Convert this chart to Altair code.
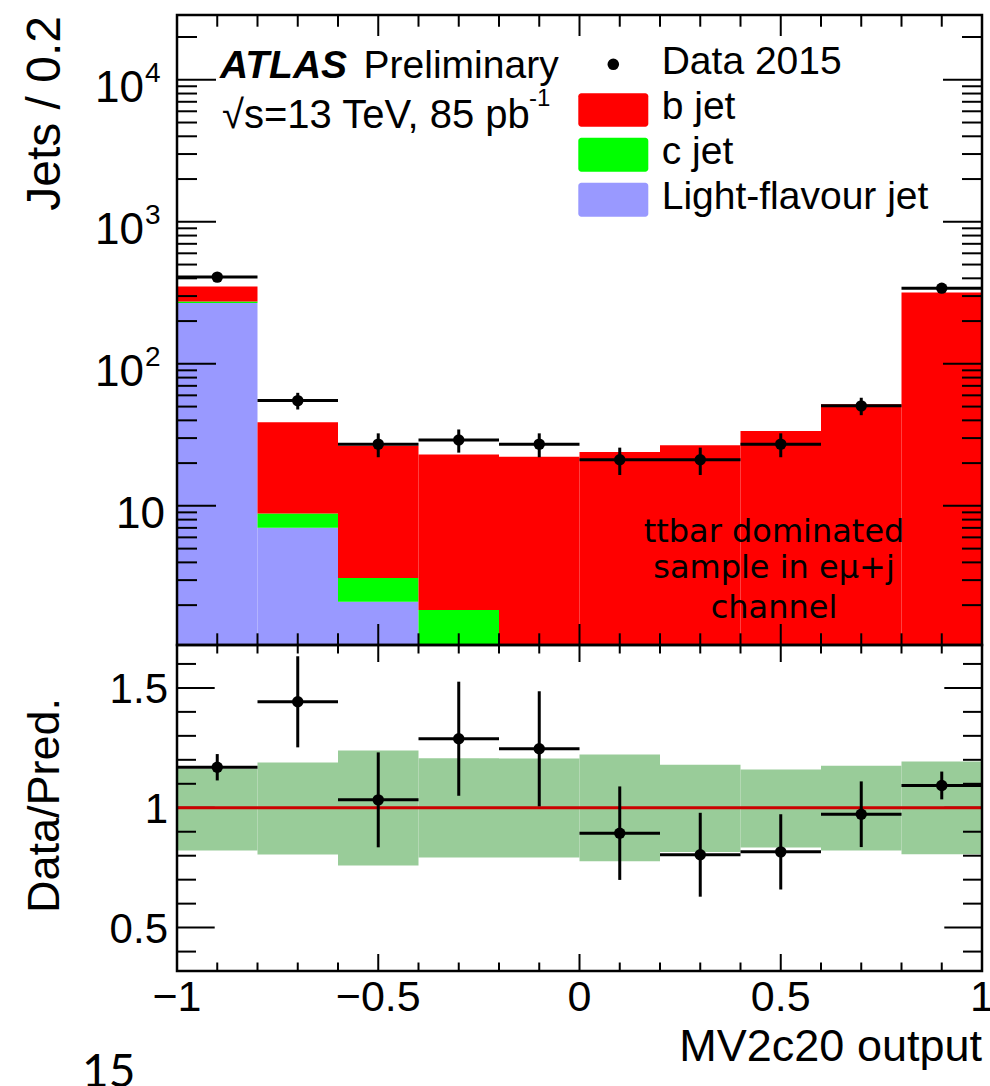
import altair as alt
import pandas as pd

# ---------------- values ----------------
bin_lo = [-1.0, -0.8, -0.6, -0.4, -0.2, 0.0, 0.2, 0.4, 0.6, 0.8]
bin_hi = [-0.8, -0.6, -0.4, -0.2, 0.0, 0.2, 0.4, 0.6, 0.8, 1.0]
bin_mid = [-0.9, -0.7, -0.5, -0.3, -0.1, 0.1, 0.3, 0.5, 0.7, 0.9]

light_jet = [268, 7.0, 2.1, 0.8, 0.4, 0.3, 0.2, 0.2, 0.2, 0.3]
c_jet = [7.0, 1.84, 1.0, 1.04, 0.5, 0.4, 0.4, 0.3, 0.3, 0.3]
b_jet = [76, 30.0, 23.4, 21.1, 21.3, 23.2, 26.1, 33.2, 51.5, 317.4]

data_y = [408, 55.1, 27.2, 29.1, 27.2, 21.1, 21.1, 27.2, 50.6, 341]
data_err = [20.2, 7.4, 5.2, 5.4, 5.2, 4.6, 4.6, 5.2, 7.1, 18.5]

ratio = [1.169, 1.442, 1.033, 1.288, 1.246, 0.894, 0.804, 0.816, 0.973, 1.093]
ratio_err = [0.055, 0.19, 0.198, 0.238, 0.24, 0.195, 0.175, 0.157, 0.137, 0.058]
band_lo = [0.822, 0.805, 0.759, 0.793, 0.793, 0.777, 0.815, 0.834, 0.822, 0.806]
band_hi = [1.163, 1.189, 1.239, 1.207, 1.205, 1.222, 1.179, 1.160, 1.175, 1.193]

flavours = ["Light-flavour jet", "c jet", "b jet"]
flavour_colors = ["#9999ff", "#00ff00", "#ff0000"]

x_major = [-1.0, -0.5, 0.0, 0.5, 1.0]
x_labels = ["\u22121", "\u22120.5", "0", "0.5", "1"]
x_minor = [-0.9, -0.8, -0.7, -0.6, -0.4, -0.3, -0.2, -0.1,
           0.1, 0.2, 0.3, 0.4, 0.6, 0.7, 0.8, 0.9]

top_y_major = [10, 100, 1000, 10000]
top_y_base = ["10", "10", "10", "10"]
top_y_exp = ["", "2", "3", "4"]

ratio_y_major = [0.5, 1.0, 1.5]
ratio_y_labels = ["0.5", "1", "1.5"]
ratio_y_minor = [0.4, 0.6, 0.7, 0.8, 0.9, 1.1, 1.2, 1.3, 1.4, 1.6]

FONT = "Liberation Sans"
W, H, H2 = 805, 630, 326
Y0B = H            # top edge of the ratio panel (pixels)
HT = H + H2        # total plot height
TOP_DOMAIN = [1.048, 28580]
RATIO_DOMAIN = [0.319, 1.679]

# ---------------- derived tables ----------------
rows = []
for i in range(len(bin_lo)):
    base = 0.01
    for name, vals in zip(flavours, [light_jet, c_jet, b_jet]):
        rows.append({"lo": bin_lo[i], "hi": bin_hi[i], "y0": base,
                     "y1": base + vals[i], "flav": name})
        base = base + vals[i]
hist_df = pd.DataFrame(rows)

pts = pd.DataFrame({"lo": bin_lo, "hi": bin_hi, "mid": bin_mid,
                    "y": data_y,
                    "ylo": [a - b for a, b in zip(data_y, data_err)],
                    "yhi": [a + b for a, b in zip(data_y, data_err)]})
rpts = pd.DataFrame({"lo": bin_lo, "hi": bin_hi, "mid": bin_mid,
                     "y": ratio,
                     "ylo": [a - b for a, b in zip(ratio, ratio_err)],
                     "yhi": [a + b for a, b in zip(ratio, ratio_err)],
                     "blo": band_lo, "bhi": band_hi})

minor_dec = []
for d in [1, 10, 100, 1000, 10000]:
    for k in range(2, 10):
        v = k * d
        if TOP_DOMAIN[0] < v < TOP_DOMAIN[1]:
            minor_dec.append(v)

one = pd.DataFrame({"a": [0]})

xs = alt.Scale(domain=[-1, 1], nice=False, zero=False)
ys = alt.Scale(type="log", domain=TOP_DOMAIN, nice=False, clamp=True, range=[H, 0])
rs = alt.Scale(domain=RATIO_DOMAIN, nice=False, zero=False, clamp=True, range=[HT, Y0B])


def X(f):
    return alt.X(f, scale=xs, axis=None)


def tick_layers(yscale, top_px, h, y_major, y_minor, lxM, lxm, lyM, lym):
    out = []
    bot = top_px + h
    for vals, L in [(x_major, lxM), (x_minor, lxm)]:
        df = pd.DataFrame({"v": vals})
        out.append(alt.Chart(df).mark_rule(color="black", strokeWidth=2).encode(
            x=X("v:Q"), y=alt.value(bot), y2=alt.value(bot - L)))
        out.append(alt.Chart(df).mark_rule(color="black", strokeWidth=2).encode(
            x=X("v:Q"), y=alt.value(top_px), y2=alt.value(top_px + L)))
    for vals, L in [(y_major, lyM), (y_minor, lym)]:
        df = pd.DataFrame({"v": vals})
        yy = alt.Y("v:Q", scale=yscale, axis=None)
        out.append(alt.Chart(df).mark_rule(color="black", strokeWidth=2).encode(
            y=yy, x=alt.value(0), x2=alt.value(L)))
        out.append(alt.Chart(df).mark_rule(color="black", strokeWidth=2).encode(
            y=yy, x=alt.value(W), x2=alt.value(W - L)))
    return out


def frame(top_px, h):
    return alt.Chart(one).mark_rect(fill=None, stroke="black", strokeWidth=2.5).encode(
        x=alt.value(0), x2=alt.value(W), y=alt.value(top_px), y2=alt.value(top_px + h))


def label(txt, x, y, size, font=FONT, **kw):
    return alt.Chart(one).mark_text(text=txt, font=font, fontSize=size,
                                    color="black", **kw).encode(
        x=alt.value(x), y=alt.value(y))


# ---------------- top panel ----------------
hist = alt.Chart(hist_df).mark_rect().encode(
    x=X("lo:Q"), x2="hi:Q",
    y=alt.Y("y0:Q", scale=ys, axis=None), y2="y1:Q",
    color=alt.Color("flav:N", scale=alt.Scale(domain=flavours, range=flavour_colors),
                    legend=None))

hbar = alt.Chart(pts).mark_rule(color="black", strokeWidth=3).encode(
    x=X("lo:Q"), x2="hi:Q", y=alt.Y("y:Q", scale=ys, axis=None))
vbar = alt.Chart(pts).mark_rule(color="black", strokeWidth=3).encode(
    x=X("mid:Q"), y=alt.Y("ylo:Q", scale=ys, axis=None), y2="yhi:Q")
dots = alt.Chart(pts).mark_circle(color="black", opacity=1, size=130).encode(
    x=X("mid:Q"), y=alt.Y("y:Q", scale=ys, axis=None))

ylab_df = pd.DataFrame({"v": top_y_major, "base": top_y_base, "exp": top_y_exp})
ylab_plain = alt.Chart(ylab_df[ylab_df["exp"] == ""]).mark_text(
    font=FONT, fontSize=44, align="right", baseline="alphabetic", dy=22).encode(
    y=alt.Y("v:Q", scale=ys, axis=None), x=alt.value(-12), text="base:N")
ylab_base = alt.Chart(ylab_df[ylab_df["exp"] != ""]).mark_text(
    font=FONT, fontSize=44, align="right", baseline="alphabetic", dy=22).encode(
    y=alt.Y("v:Q", scale=ys, axis=None), x=alt.value(-33), text="base:N")
ylab_exp = alt.Chart(ylab_df[ylab_df["exp"] != ""]).mark_text(
    font=FONT, fontSize=28, align="left", baseline="alphabetic", dy=2).encode(
    y=alt.Y("v:Q", scale=ys, axis=None), x=alt.value(-32), text="exp:N")

top_texts = [
    label("Jets / 0.2", -117, 1, 48, angle=270, align="right", baseline="alphabetic"),
    label("ATLAS", 43, 63.3, 39, align="left", baseline="alphabetic",
          fontStyle="italic", fontWeight="bold"),
    label("Preliminary", 186.6, 63.3, 39, align="left", baseline="alphabetic"),
    label("\u221as=13 TeV, 85 pb", 45, 112.7, 40, align="left", baseline="alphabetic"),
    label("-1", 352, 91, 24, align="left", baseline="alphabetic"),
    label("Data 2015", 484.7, 58.5, 39, align="left", baseline="alphabetic"),
    label("b jet", 484.7, 103.5, 39, align="left", baseline="alphabetic"),
    label("c jet", 484.7, 149, 39, align="left", baseline="alphabetic"),
    label("Light-flavour jet", 484.7, 193.5, 39, align="left", baseline="alphabetic"),
]
legend_dot = alt.Chart(one).mark_circle(color="black", opacity=1, size=135).encode(
    x=alt.value(436.3), y=alt.value(49.3))
legend_boxes = []
for (yt, yb), col in zip([(78.3, 111.7), (122.7, 156.7), (167.7, 201.7)],
                         ["#ff0000", "#00ff00", "#9999ff"]):
    legend_boxes.append(alt.Chart(one).mark_rect(color=col, cornerRadius=3).encode(
        x=alt.value(401.3), x2=alt.value(471.3), y=alt.value(yt), y2=alt.value(yb)))

channel_txt = []
for txt, yb in [("ttbar dominated", 526.7), ("sample in e\u03bc+j", 563.3),
                ("channel", 603.3)]:
    channel_txt.append(label(txt, 597, yb, 32, font="DejaVu Sans",
                             align="center", baseline="alphabetic"))

# ---------------- ratio panel ----------------
band = alt.Chart(rpts).mark_rect(color="#99cc99").encode(
    x=X("lo:Q"), x2="hi:Q", y=alt.Y("blo:Q", scale=rs, axis=None), y2="bhi:Q")
unity = alt.Chart(one).mark_rule(color="#cc0000", strokeWidth=3).encode(
    y=alt.Y(datum=1.0, scale=rs, axis=None), x=alt.value(0), x2=alt.value(W))
rh = alt.Chart(rpts).mark_rule(color="black", strokeWidth=3).encode(
    x=X("lo:Q"), x2="hi:Q", y=alt.Y("y:Q", scale=rs, axis=None))
rv = alt.Chart(rpts).mark_rule(color="black", strokeWidth=3).encode(
    x=X("mid:Q"), y=alt.Y("ylo:Q", scale=rs, axis=None), y2="yhi:Q")
rdots = alt.Chart(rpts).mark_circle(color="black", opacity=1, size=130).encode(
    x=X("mid:Q"), y=alt.Y("y:Q", scale=rs, axis=None))

rlab = alt.Chart(pd.DataFrame({"v": ratio_y_major, "t": ratio_y_labels})).mark_text(
    font=FONT, fontSize=42, align="right", baseline="alphabetic", dy=15).encode(
    y=alt.Y("v:Q", scale=rs, axis=None), x=alt.value(-9), text="t:N")
xlab = alt.Chart(pd.DataFrame({"v": x_major, "t": x_labels})).mark_text(
    font=FONT, fontSize=43, align="center", baseline="alphabetic").encode(
    x=X("v:Q"), y=alt.value(Y0B + 366), text="t:N")

bottom_texts = [
    label("Data/Pred.", -118, Y0B + 160.5, 45, angle=270, align="center",
          baseline="alphabetic"),
    label("MV2c20 output", W, Y0B + 415.5, 45, align="right", baseline="alphabetic"),
    label("15", -95, Y0B + 442, 46, font="Lato", align="left", baseline="alphabetic"),
]

chart = alt.layer(
    hist, *tick_layers(ys, 0, H, top_y_major, minor_dec, 21, 11.7, 39, 20),
    hbar, vbar, dots, ylab_plain, ylab_base, ylab_exp,
    *legend_boxes, legend_dot, *top_texts, *channel_txt, frame(0, H),
    band, *tick_layers(rs, Y0B, H2, ratio_y_major, ratio_y_minor, 17, 8.5, 37.7, 19),
    unity, rh, rv, rdots, rlab, xlab, *bottom_texts, frame(Y0B, H2),
).resolve_scale(y="independent").properties(
    width=W, height=HT,
    padding={"left": 177, "top": 15, "right": 8, "bottom": 115},
    autosize=alt.AutoSizeParams(type="none"),
    background="white",
).configure_view(stroke=None)

chart.save("out.html", embed_options={"renderer": "svg", "actions": False})
